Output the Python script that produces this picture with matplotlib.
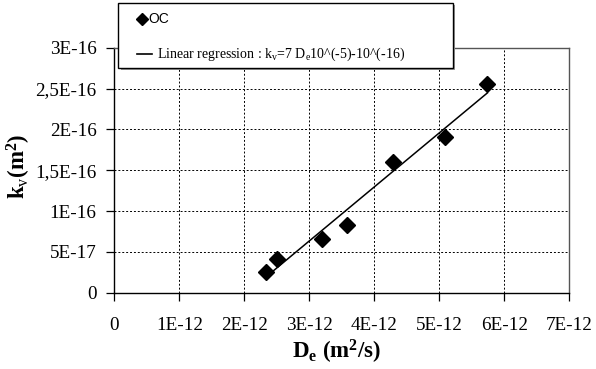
import matplotlib
matplotlib.use('Agg')
import matplotlib.pyplot as plt
import numpy as np
from matplotlib.patches import Rectangle
from matplotlib.lines import Line2D

# measured samples OC
de_values = [2.33e-12, 2.50e-12, 3.20e-12, 3.575e-12, 4.29e-12, 5.09e-12, 5.74e-12]
kv_values = [2.57e-17, 4.13e-17, 6.54e-17, 8.3e-17, 1.605e-16, 1.908e-16, 2.557e-16]

x_ticks = [0, 1e-12, 2e-12, 3e-12, 4e-12, 5e-12, 6e-12, 7e-12]
x_labels = ['0', '1E-12', '2E-12', '3E-12', '4E-12', '5E-12', '6E-12', '7E-12']
y_ticks = [0, 5e-17, 1e-16, 1.5e-16, 2e-16, 2.5e-16, 3e-16]
y_labels = ['0', '5E-17', '1E-16', '1,5E-16', '2E-16', '2,5E-16', '3E-16']

plt.rcParams['font.family'] = 'Liberation Serif'
plt.rcParams['mathtext.fontset'] = 'custom'
plt.rcParams['mathtext.rm'] = 'Liberation Serif'
plt.rcParams['mathtext.it'] = 'Liberation Serif:italic'
plt.rcParams['mathtext.bf'] = 'Liberation Serif:bold'

W, H = 596, 369
fig = plt.figure(figsize=(W / 100, H / 100), dpi=100)
ax = fig.add_axes([114.3 / W, 1 - 292.7 / H, 455 / W, 245 / H])

# regression line over the measured range
slope, intercept = np.polyfit(de_values, kv_values, 1)
x_fit = np.array([min(de_values), max(de_values)])
ax.plot(x_fit, slope * x_fit + intercept, color='black', lw=1.1, zorder=3)
ax.plot(de_values, kv_values, 'D', color='black', ms=7.8, zorder=4)

ax.set_xlim(0, 7e-12)
ax.set_ylim(0, 3e-16)
ax.set_xticks(x_ticks)
ax.set_xticklabels(x_labels)
ax.set_yticks(y_ticks)
ax.set_yticklabels(y_labels)
ax.tick_params(axis='both', direction='out', length=5.8, width=0.9, labelsize=13.8, color='black')
ax.tick_params(axis='x', pad=12)
ax.tick_params(axis='y', pad=7)

ax.grid(True, color='black', linestyle=(0, (2, 2)), linewidth=0.7)
ax.set_axisbelow(True)
for side in ['top', 'right']:
    ax.spines[side].set_color('#555555')
    ax.spines[side].set_linewidth(1.0)
for side in ['left', 'bottom']:
    ax.spines[side].set_color('black')
    ax.spines[side].set_linewidth(1.0)

fig.text(19 / W, 1 - 166 / H, r'k$_\mathrm{v}$(m$^\mathbf{2}$)', rotation=90,
         ha='center', va='center', fontsize=16.5, fontweight='bold')
fig.text(336.7 / W, 1 - 352 / H, r'D$_\mathbf{e}$ (m$^\mathbf{2}$/s)',
         ha='center', va='center', fontsize=16.5, fontweight='bold')

# legend box with a grey shadow
fig.patches.append(Rectangle((120.5 / W, 1 - 70 / H), 334.4 / W, 65 / H,
                             transform=fig.transFigure, facecolor='#999999',
                             edgecolor='none', zorder=5))
fig.patches.append(Rectangle((118.3 / W, 1 - 68 / H), 334.4 / W, 65 / H,
                             transform=fig.transFigure, facecolor='white',
                             edgecolor='black', lw=1.0, zorder=6))
fig.lines.append(Line2D([142 / W], [1 - 19 / H], marker='D', color='black', ms=6,
                        transform=fig.transFigure, zorder=7))
fig.lines.append(Line2D([136.7 / W, 151.7 / W], [1 - 54.3 / H, 1 - 54.3 / H], color='black',
                        lw=1.2, transform=fig.transFigure, zorder=7))
fig.text(148.5 / W, 1 - 19 / H, 'OC', family='Liberation Sans', fontsize=10,
         ha='left', va='center', zorder=8)
fig.text(156.7 / W, 1 - 54.3 / H,
         r'Linear regression : k$_\mathrm{v}$=7 D$_\mathrm{e}$10^(-5)-10^(-16)',
         fontsize=10, ha='left', va='center', zorder=8)

fig.savefig('out.png', dpi=100)
